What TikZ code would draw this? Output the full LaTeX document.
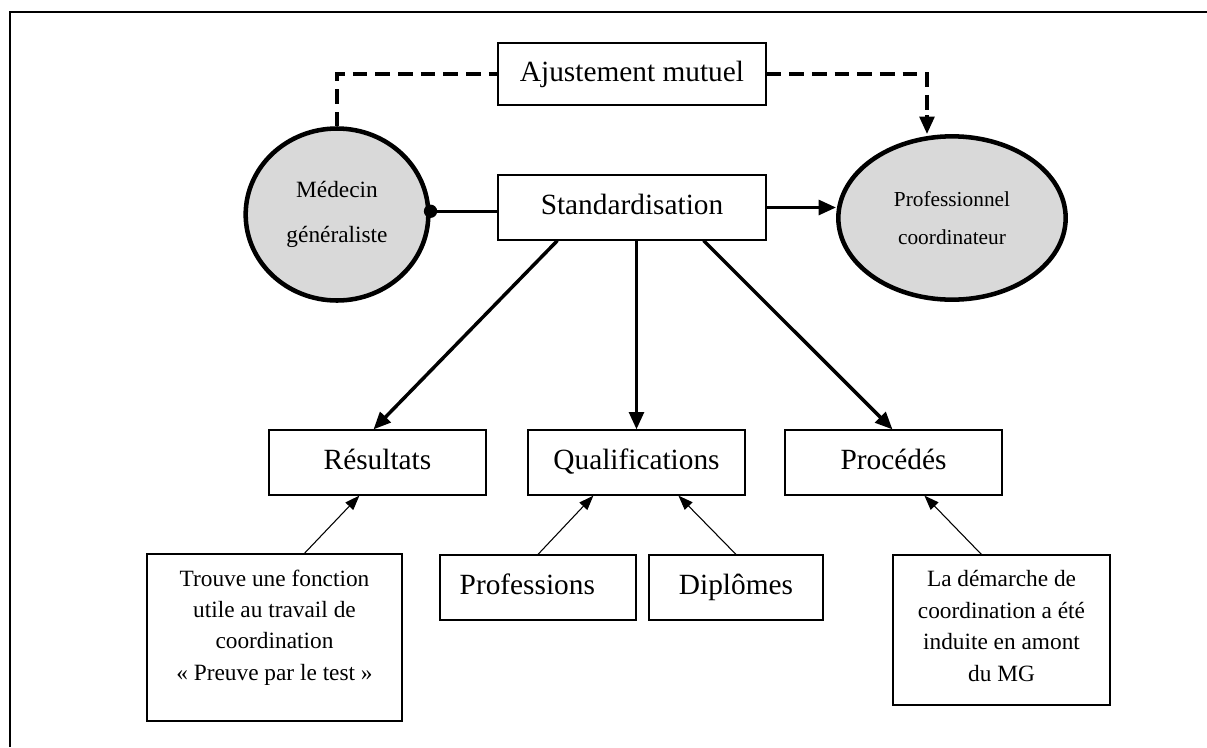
\documentclass[tikz,border=0pt]{standalone}
\usepackage{fontspec}
\setmainfont{Liberation Serif}
\usetikzlibrary{arrows.meta,shapes.geometric,calc}
\definecolor{ellgray}{RGB}{217,217,217}
\tikzset{
  box/.style={draw, line width=0.9pt, inner sep=0pt, text height=16pt, text depth=5pt, font=\fontsize{22}{26}\selectfont},
  txtbox/.style={draw, line width=0.9pt, inner sep=0pt},
  boxtext/.style={inner sep=0pt, align=center, font=\fontsize{17.5}{23.6}\selectfont},
  oval/.style={ellipse, draw, line width=3.4pt, fill=ellgray, inner sep=0pt, align=center},
  bigarrow/.style={line width=2.6pt, -{Triangle[length=13pt,width=11pt]}},
  smallarrow/.style={line width=0.8pt, -{Triangle[length=11pt,width=8pt]}},
  dashline/.style={line width=2.8pt, dash pattern=on 11pt off 6pt},
}
\begin{document}
\begin{tikzpicture}[x=0.75pt,y=-0.75pt]
\useasboundingbox (0,0) rectangle (1207,747);
\draw[line width=1.6pt] (10,747) -- (10,12) -- (1207,12);

% top row
\node[box, minimum width=201pt, minimum height=46.5pt] (aj) at (632,74) {Ajustement mutuel};
\node[box, minimum width=201pt, minimum height=48.75pt] (std) at (632,207.5) {Standardisation};
\node[oval, minimum width=137pt, minimum height=129pt, font=\fontsize{17.5}{33.5}\selectfont] (med) at (337,214.5) {Médecin\\généraliste};
\node[oval, minimum width=170.5pt, minimum height=122.5pt, font=\fontsize{16}{28.5}\selectfont] (pc) at (952,218) {Professionnel\\coordinateur};
\coordinate (pctop) at (927,134);

% middle row
\node[box, minimum width=162.75pt, minimum height=48.75pt] (res) at (377.5,462.5) {Résultats};
\node[box, minimum width=162.75pt, minimum height=48.75pt] (qual) at (636.5,462.5) {Qualifications};
\node[box, minimum width=162.75pt, minimum height=48.75pt] (proc) at (893.5,462.5) {Procédés};

% bottom row
\node[txtbox, minimum width=191.25pt, minimum height=125.25pt] (tbox) at (274.5,637.5) {};
\node[boxtext] (tboxt) at (274.5,627.5) {Trouve une fonction\\utile au travail de\\coordination\\« Preuve par le test »};
\node[box, minimum width=147pt, minimum height=48.75pt] (prof) at (538,587.5) {\hspace*{-16pt}Professions};
\node[box, minimum width=130.5pt, minimum height=48.75pt] (dip) at (736,587.5) {Diplômes};
\node[txtbox, minimum width=162.75pt, minimum height=112.5pt] (dbox) at (1001.5,630) {};
\node[boxtext] (dboxt) at (1001.5,626) {La démarche de\\coordination a été\\induite en amont\\du MG};

% dashed mutual adjustment
\draw[dashline] (med.north) |- (aj.west);
\draw[dashline] (aj.east) -| ($(pctop)+(0,-17)$);
\draw[line width=2.6pt, -{Triangle[length=13pt,width=11pt]}] ($(pctop)+(0,-19)$) -- (pctop);

% standardisation links
\draw[line width=2.6pt] (med.2) -- (med.2 -| std.west);
\fill (med.2) circle (5pt);
\draw[bigarrow] (std.east) -- (std.east -| pc.west);
\draw[bigarrow] ($(std.south west)+(60,0)$) -- ($(res.north)+(-4,0)$);
\draw[bigarrow] (qual.north |- std.south) -- (qual.north);
\draw[bigarrow] ($(std.south east)+(-63,0)$) -- ($(proc.north)+(-1,0)$);

% lower arrows
\draw[smallarrow] ($(tbox.north west)+(158,0)$) -- ($(res.south west)+(91,0)$);
\draw[smallarrow] (prof.north) -- ($(qual.south west)+(66,0)$);
\draw[smallarrow] (dip.north) -- ($(qual.south west)+(151,0)$);
\draw[smallarrow] ($(dbox.north west)+(89,0)$) -- ($(proc.south west)+(140,0)$);
\end{tikzpicture}
\end{document}
